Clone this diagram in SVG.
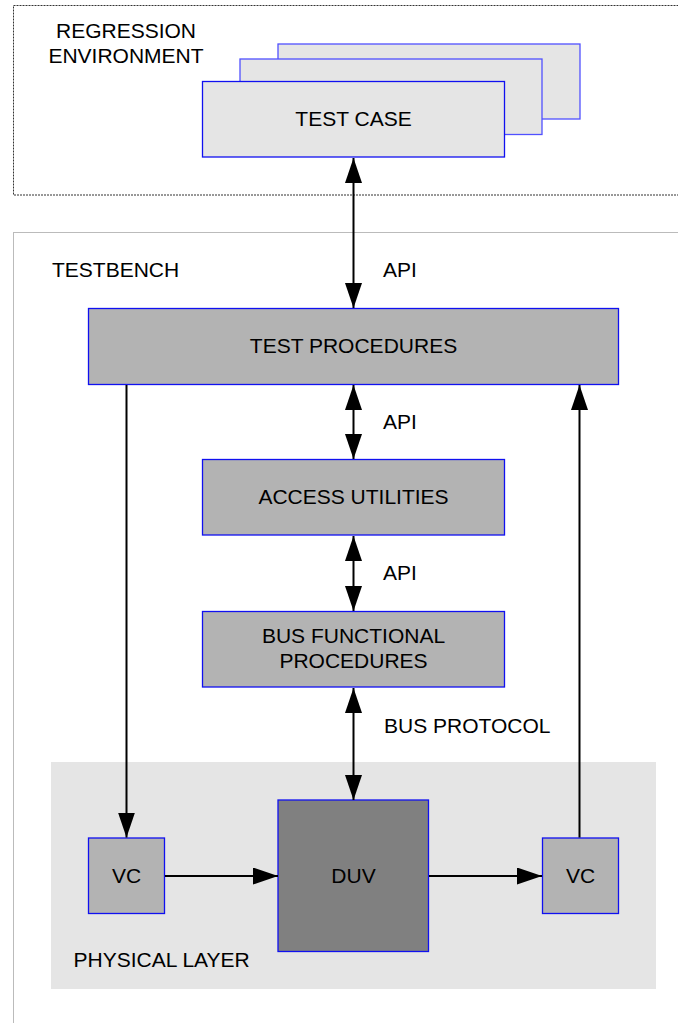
<svg xmlns="http://www.w3.org/2000/svg" width="678" height="1023" viewBox="0 0 678 1023">
<defs>
<style>
text{font-family:"Liberation Sans",Arial,sans-serif;font-size:21px;fill:#000}
.c{text-anchor:middle}
.env{fill:none;stroke:#333;stroke-width:1;stroke-dasharray:2 1}
.env2{fill:none;stroke:#777;stroke-width:1;stroke-dasharray:1 1}
.tc{fill:#e5e5e5;stroke:#1010f0;stroke-width:1.3}
.tcb{fill:#e5e5e5;stroke:#5050ff;stroke-width:1.3}
.blk{fill:#b3b3b3;stroke:#1010f0;stroke-width:1.3}
.duv{fill:#808080;stroke:#1010f0;stroke-width:1.3}
.ln{fill:none;stroke:#000;stroke-width:2}
.a2{marker-start:url(#ah);marker-end:url(#ah)}
.a1{marker-end:url(#ah)}
</style>
<marker id="ah" viewBox="0 0 25 17" refX="25" refY="8.5" markerWidth="25" markerHeight="17" markerUnits="userSpaceOnUse" orient="auto-start-reverse">
<path d="M0,0 L25,8.5 L0,17 z" fill="#000"/>
</marker>
</defs>
<g id="regression-env">
<rect class="env" x="13.5" y="5.5" width="700" height="189.5"/>
<text class="c" x="126" y="38">REGRESSION</text>
<text class="c" x="126" y="63">ENVIRONMENT</text>
</g>
<g id="testbench">
<rect class="env2" x="13.5" y="232.5" width="700" height="820"/>
<text x="52" y="277">TESTBENCH</text>
</g>
<g id="physical-layer">
<rect x="51" y="762" width="605" height="227" fill="#e5e5e5"/>
<text x="73.5" y="966.5">PHYSICAL LAYER</text>
</g>
<g id="test-case">
<rect class="tcb" x="278" y="44" width="302" height="75"/>
<rect class="tcb" x="240" y="59" width="302" height="75.5"/>
<rect class="tc" x="202.5" y="81.5" width="302" height="75.5"/>
<text class="c" x="353.5" y="126">TEST CASE</text>
</g>
<g id="test-procedures">
<rect class="blk" x="88.5" y="308.5" width="530" height="76"/>
<text class="c" x="353.5" y="352.5">TEST PROCEDURES</text>
</g>
<g id="access-utilities">
<rect class="blk" x="202.5" y="459.5" width="302" height="75.5"/>
<text class="c" x="353.5" y="503.5">ACCESS UTILITIES</text>
</g>
<g id="bus-functional-procedures">
<rect class="blk" x="202.5" y="611.5" width="302" height="75.5"/>
<text class="c" x="353.5" y="642.5">BUS FUNCTIONAL</text>
<text class="c" x="353.5" y="667.5">PROCEDURES</text>
</g>
<g id="duv">
<rect class="duv" x="278" y="800" width="150.5" height="151.5"/>
<text class="c" x="353.5" y="882.5">DUV</text>
</g>
<g id="vc-left">
<rect class="blk" x="88.5" y="838" width="76" height="75.5"/>
<text class="c" x="126.5" y="882.5">VC</text>
</g>
<g id="vc-right">
<rect class="blk" x="542.5" y="838" width="76" height="75.5"/>
<text class="c" x="580.5" y="882.5">VC</text>
</g>
<g id="connectors">
<line class="ln a2" x1="353.5" y1="158" x2="353.5" y2="308"/>
<line class="ln a2" x1="353.5" y1="385" x2="353.5" y2="459"/>
<line class="ln a2" x1="353.5" y1="536" x2="353.5" y2="611"/>
<line class="ln a2" x1="353.5" y1="688" x2="353.5" y2="800"/>
<line class="ln a1" x1="126.5" y1="385" x2="126.5" y2="837.5"/>
<line class="ln a1" x1="579.5" y1="837.5" x2="579.5" y2="385"/>
<line class="ln a1" x1="165" y1="876" x2="278" y2="876"/>
<line class="ln a1" x1="429" y1="876" x2="542" y2="876"/>
<text x="383" y="277">API</text>
<text x="383" y="428.5">API</text>
<text x="383" y="580">API</text>
<text x="384" y="732.5">BUS PROTOCOL</text>
</g>
</svg>
